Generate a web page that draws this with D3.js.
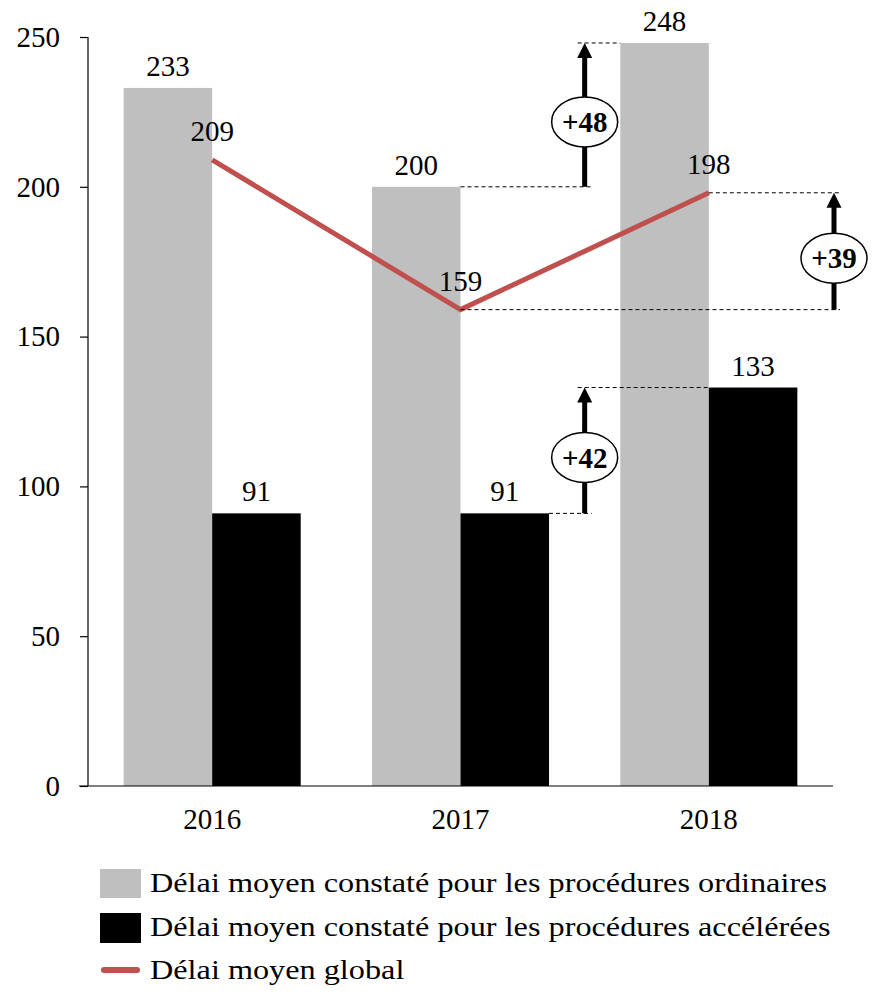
<!DOCTYPE html>
<html><head><meta charset="utf-8">
<script src="https://cdn.jsdelivr.net/npm/d3@7"></script>
<style>
html,body{margin:0;padding:0;background:#fff;}
svg{display:block;font-family:"Liberation Serif","Times New Roman",serif;}
</style></head>
<body>
<svg id="chart" width="876" height="1007"></svg>
<script>
const years = ["2016", "2017", "2018"];
const ordinaires = [233, 200, 248];
const acceleres = [91, 91, 133];
const global = [209, 159, 198];
const yTicks = [0, 50, 100, 150, 200, 250];
const seriesNames = ["Délai moyen constaté pour les procédures ordinaires",
                     "Délai moyen constaté pour les procédures accélérées",
                     "Délai moyen global"];
const colors = {ord: "#bfbfbf", acc: "#000000", glob: "#c0504d"};

const svg = d3.select("#chart");
const x0 = d3.scaleBand().domain(years).range([88, 833]).paddingInner(0.287).paddingOuter(0.1435);
const x1 = d3.scaleBand().domain(["ord", "acc"]).range([0, x0.bandwidth()]);
const y = d3.scaleLinear().domain([0, 250]).range([786, 37]);
const FS = 29;

// bars
years.forEach((yr, i) => {
  const g = svg.append("g").attr("transform", `translate(${x0(yr)},0)`);
  [["ord", ordinaires[i]], ["acc", acceleres[i]]].forEach(([k, v]) => {
    g.append("rect").attr("x", x1(k)).attr("width", x1.bandwidth())
      .attr("y", y(v)).attr("height", y(0) - y(v)).attr("fill", colors[k]);
    g.append("text").attr("x", x1(k) + x1.bandwidth() / 2).attr("y", y(v) - 12)
      .attr("text-anchor", "middle").attr("font-size", FS).text(v);
  });
});

// axes
const yAxis = d3.axisLeft(y).tickValues(yTicks).tickSize(8).tickPadding(20);
const ya = svg.append("g").attr("transform", "translate(88,0)").call(yAxis);
ya.attr("font-family", null);
ya.select(".domain").attr("d", `M0,${y(250)}V${y(0)}`).attr("stroke", "#000").attr("stroke-width", 1.2);
ya.selectAll("line").attr("stroke", "#000").attr("stroke-width", 1.2);
ya.selectAll("text").attr("font-size", FS).attr("fill", "#000");

const xAxis = d3.axisBottom(x0).tickSize(0).tickPadding(22);
const xa = svg.append("g").attr("transform", `translate(0,${y(0)})`).call(xAxis);
xa.attr("font-family", null);
xa.select(".domain").attr("d", `M79,0H833`).attr("stroke", "#000").attr("stroke-width", 1.2);
xa.selectAll("text").attr("font-size", FS).attr("fill", "#000");

// line
const cx = yr => x0(yr) + x0.bandwidth() / 2;
const line = d3.line().x((d, i) => cx(years[i])).y(d => y(d));
svg.append("path").datum(global).attr("d", line).attr("fill", "none")
  .attr("stroke", colors.glob).attr("stroke-width", 5);
global.forEach((v, i) => {
  svg.append("text").attr("x", cx(years[i])).attr("y", y(v) - 19)
    .attr("text-anchor", "middle").attr("font-size", FS).text(v);
});

// annotations
const dash = (xA, xB, v) => svg.append("line").attr("x1", xA).attr("x2", xB)
  .attr("y1", y(v)).attr("y2", y(v)).attr("stroke", "#000").attr("stroke-width", 1)
  .attr("stroke-dasharray", "4,3");
const gap = (x0(years[1]) + x0.bandwidth() + x0(years[2])) / 2;
const right = 834;
dash(x0(years[1]) + x1("ord") + x1.bandwidth(), gap + 7, ordinaires[1]);
dash(gap - 7, x0(years[2]), ordinaires[2]);
dash(x0(years[1]) + x0.bandwidth(), gap + 7, acceleres[1]);
dash(gap - 7, x0(years[2]) + x1("acc"), acceleres[2]);
dash(cx(years[1]), right + 6, global[1]);
dash(cx(years[2]), right + 6, global[2]);

function arrow(xp, from, to, label) {
  const yF = y(from), yT = y(to);
  svg.append("line").attr("x1", xp).attr("x2", xp).attr("y1", yF).attr("y2", yT + 13)
    .attr("stroke", "#000").attr("stroke-width", 5);
  svg.append("path").attr("d", `M${xp},${yT}L${xp - 7.5},${yT + 15}L${xp + 7.5},${yT + 15}Z`).attr("fill", "#000");
  const cy = (yF + yT) / 2 + 7;
  svg.append("ellipse").attr("cx", xp).attr("cy", cy).attr("rx", 33).attr("ry", 25)
    .attr("fill", "#fff").attr("stroke", "#000").attr("stroke-width", 1.5);
  svg.append("text").attr("x", xp).attr("y", cy).attr("dy", "0.35em")
    .attr("text-anchor", "middle").attr("font-size", FS).attr("font-weight", "bold").text(label);
}
arrow(gap, ordinaires[1], ordinaires[2], "+" + (ordinaires[2] - ordinaires[1]));
arrow(gap, acceleres[1], acceleres[2], "+" + (acceleres[2] - acceleres[1]));
arrow(right, global[1], global[2], "+" + (global[2] - global[1]));

// legend
const leg = svg.append("g");
const legY = [883, 927, 970];
leg.append("rect").attr("x", 100).attr("y", legY[0] - 14).attr("width", 41).attr("height", 29).attr("fill", colors.ord);
leg.append("rect").attr("x", 100).attr("y", legY[1] - 14).attr("width", 41).attr("height", 30).attr("fill", colors.acc);
leg.append("line").attr("x1", 104).attr("x2", 137).attr("y1", legY[2]).attr("y2", legY[2])
  .attr("stroke", colors.glob).attr("stroke-width", 6).attr("stroke-linecap", "round");
const texts = seriesNames.map((n, i) => leg.append("text").attr("x", 150).attr("y", legY[i]).attr("dy", "0.35em")
  .attr("font-size", 27).text(n));
const w0 = texts[0].node().getComputedTextLength();
const k = 677 / w0;
texts.forEach(t => {
  const w = t.node().getComputedTextLength();
  t.attr("textLength", w * k).attr("lengthAdjust", "spacingAndGlyphs");
});
</script>
</body></html>
